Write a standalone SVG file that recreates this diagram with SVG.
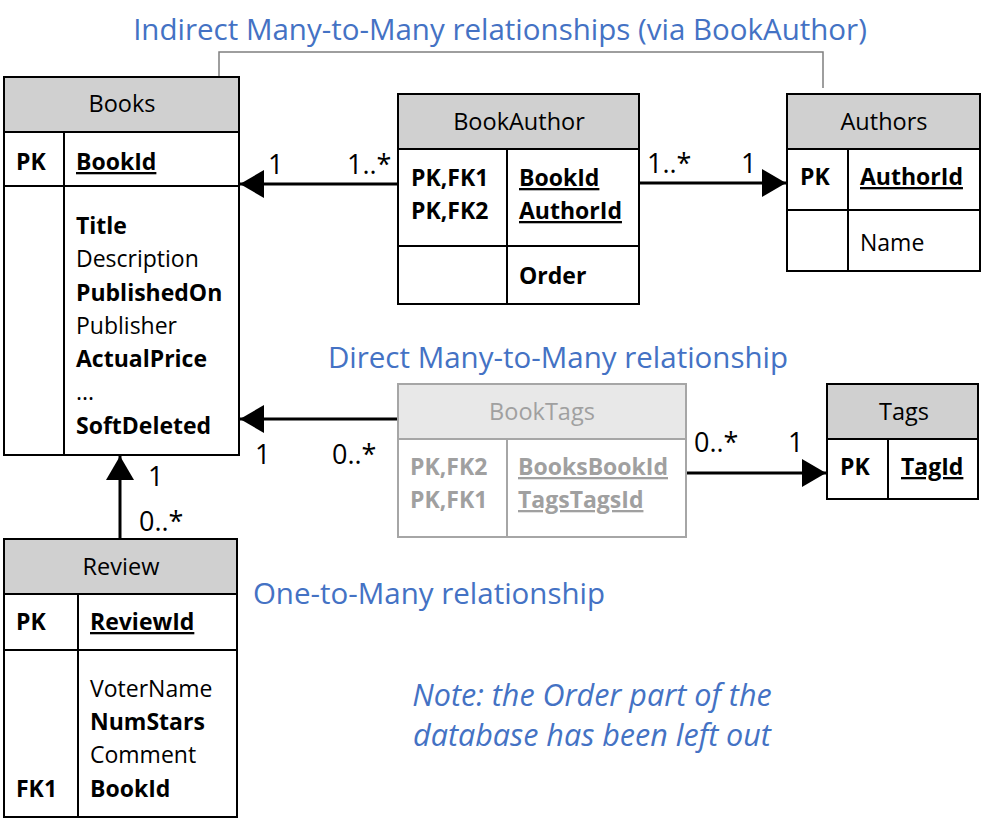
<svg xmlns="http://www.w3.org/2000/svg" width="988" height="819" viewBox="0 0 988 819">
<style>
.t{font-family:"Open Sans","Noto Sans",sans-serif;font-size:23px;fill:#000}
.b{font-weight:bold}
.u{text-decoration:underline}
.g{fill:#a0a0a0}
.hd{font-family:"Open Sans","Noto Sans",sans-serif;font-size:23.5px;text-anchor:middle}
.lbl{font-family:"Open Sans","Noto Sans",sans-serif;font-size:27px;fill:#000}
.blue{font-family:"Open Sans","Noto Sans",sans-serif;font-size:29.5px;fill:#4472C4}
.it{font-style:italic;font-size:30.5px}
.box{fill:#fff;stroke:#000;stroke-width:2}
.head{fill:#d0d0d0;stroke:#000;stroke-width:2}
.ln{stroke:#000;stroke-width:2}
.gbox{fill:#fff;stroke:#a6a6a6;stroke-width:2}
.ghead{fill:#e8e8e8;stroke:#a6a6a6;stroke-width:2}
.gln{stroke:#a6a6a6;stroke-width:2}
.conn{stroke:#000;stroke-width:3;fill:none}
</style>
<defs>
<marker id="arr" viewBox="0 0 24 28" refX="24" refY="14" markerWidth="24" markerHeight="28" markerUnits="userSpaceOnUse" orient="auto">
<path d="M0,0 L24,14 L0,28 Z" fill="#000"/>
</marker>
</defs>
<rect width="988" height="819" fill="#fff"/>

<g id="connectors">
<polyline points="219,88 219,52 823,52 823,88" fill="none" stroke="#7f7f7f" stroke-width="1.5"/>
<line class="conn" x1="398" y1="184" x2="240" y2="184" marker-end="url(#arr)"/>
<line class="conn" x1="639" y1="183" x2="786" y2="183" marker-end="url(#arr)"/>
<line class="conn" x1="398" y1="419" x2="240" y2="419" marker-end="url(#arr)"/>
<line class="conn" x1="686" y1="473" x2="826" y2="473" marker-end="url(#arr)"/>
<line class="conn" x1="120" y1="539" x2="120" y2="456" marker-end="url(#arr)"/>
<text class="lbl" x="268" y="174">1</text>
<text class="lbl" x="347" y="174">1..*</text>
<text class="lbl" x="647" y="173">1..*</text>
<text class="lbl" x="741" y="173">1</text>
<text class="lbl" x="255" y="464">1</text>
<text class="lbl" x="332" y="464">0..*</text>
<text class="lbl" x="694" y="452">0..*</text>
<text class="lbl" x="788" y="452">1</text>
<text class="lbl" x="148" y="486">1</text>
<text class="lbl" x="139" y="531">0..*</text>
</g>

<g id="Books">
<rect class="box" x="4" y="77" width="235" height="378"/>
<rect class="head" x="4" y="77" width="235" height="55"/>
<line class="ln" x1="4" y1="186" x2="239" y2="186"/>
<line class="ln" x1="64" y1="132" x2="64" y2="455"/>
<text class="hd" x="122" y="112">Books</text>
<text class="t b" x="16" y="170">PK</text>
<text class="t b u" x="76" y="170">BookId</text>
<text class="t b" x="76" y="234">Title</text>
<text class="t" x="76" y="267">Description</text>
<text class="t b" x="76" y="301">PublishedOn</text>
<text class="t" x="76" y="334">Publisher</text>
<text class="t b" x="76" y="367">ActualPrice</text>
<text class="t" x="76" y="400">...</text>
<text class="t b" x="76" y="434">SoftDeleted</text>
</g>

<g id="BookAuthor">
<rect class="box" x="398" y="94" width="241" height="210"/>
<rect class="head" x="398" y="94" width="241" height="55"/>
<line class="ln" x1="398" y1="246" x2="639" y2="246"/>
<line class="ln" x1="507" y1="149" x2="507" y2="304"/>
<text class="hd" x="519" y="130">BookAuthor</text>
<text class="t b" x="411" y="186">PK,FK1</text>
<text class="t b" x="411" y="219">PK,FK2</text>
<text class="t b u" x="519" y="186">BookId</text>
<text class="t b u" x="519" y="219">AuthorId</text>
<text class="t b" x="519" y="284">Order</text>
</g>

<g id="Authors">
<rect class="box" x="787" y="94" width="193" height="177"/>
<rect class="head" x="787" y="94" width="193" height="55"/>
<line class="ln" x1="787" y1="210" x2="980" y2="210"/>
<line class="ln" x1="848" y1="149" x2="848" y2="271"/>
<text class="hd" x="884" y="130">Authors</text>
<text class="t b" x="800" y="185">PK</text>
<text class="t b u" x="860" y="185">AuthorId</text>
<text class="t" x="860" y="251">Name</text>
</g>

<g id="BookTags">
<rect class="gbox" x="398" y="384" width="288" height="153"/>
<rect class="ghead" x="398" y="384" width="288" height="55"/>
<line class="gln" x1="507" y1="439" x2="507" y2="537"/>
<text class="hd g" x="542" y="420">BookTags</text>
<text class="t b g" x="410" y="475">PK,FK2</text>
<text class="t b g" x="410" y="508">PK,FK1</text>
<text class="t b u g" x="518" y="475">BooksBookId</text>
<text class="t b u g" x="518" y="508">TagsTagsId</text>
</g>

<g id="Tags">
<rect class="box" x="827" y="384" width="151" height="115"/>
<rect class="head" x="827" y="384" width="151" height="55"/>
<line class="ln" x1="888" y1="439" x2="888" y2="499"/>
<text class="hd" x="904" y="420">Tags</text>
<text class="t b" x="840" y="475">PK</text>
<text class="t b u" x="901" y="475">TagId</text>
</g>

<g id="Review">
<rect class="box" x="4" y="539" width="233" height="278"/>
<rect class="head" x="4" y="539" width="233" height="55"/>
<line class="ln" x1="4" y1="650" x2="237" y2="650"/>
<line class="ln" x1="78" y1="594" x2="78" y2="817"/>
<text class="hd" x="121" y="575">Review</text>
<text class="t b" x="16" y="630">PK</text>
<text class="t b u" x="90" y="630">ReviewId</text>
<text class="t" x="90" y="697">VoterName</text>
<text class="t b" x="90" y="730">NumStars</text>
<text class="t" x="90" y="763">Comment</text>
<text class="t b" x="90" y="797">BookId</text>
<text class="t b" x="16" y="797">FK1</text>
</g>

<g id="labels">
<text class="blue" x="500" y="40" text-anchor="middle">Indirect Many-to-Many relationships (via BookAuthor)</text>
<text class="blue" x="558" y="368" text-anchor="middle">Direct Many-to-Many relationship</text>
<text class="blue" x="429" y="604" text-anchor="middle">One-to-Many relationship</text>
<text class="blue it" x="592" y="706" text-anchor="middle">Note: the Order part of the</text>
<text class="blue it" x="592" y="746" text-anchor="middle">database has been left out</text>
</g>
</svg>
